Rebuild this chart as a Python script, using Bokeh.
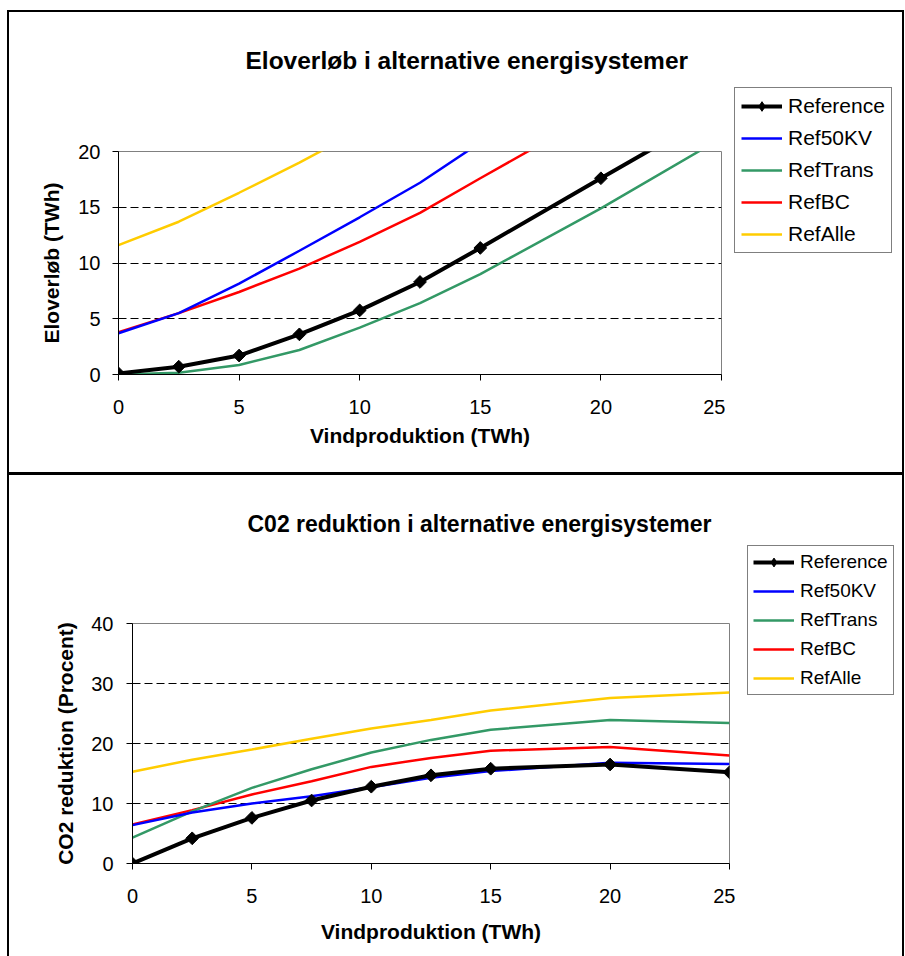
import math
from bokeh.plotting import figure
from bokeh.models import (Range1d, FixedTicker, Legend, LegendItem, Label)
from bokeh.layouts import column, row
from bokeh.embed import file_html
from bokeh.resources import INLINE

# ---------------- data ----------------
wind_twh = [0, 2.5, 5, 7.5, 10, 12.5, 15, 20, 25]
x_ticks = [0, 5, 10, 15, 20, 25]
series_names = ["Reference", "Ref50KV", "RefTrans", "RefBC", "RefAlle"]

# Eloverløb (TWh)
el_reference = [0.1, 0.7, 1.7, 3.6, 5.75, 8.3, 11.35, 17.6, 23.8]
el_ref50kv = [3.7, 5.5, 8.15, 11.1, 14.1, 17.2, 20.8, 28.0, 35.0]
el_reftrans = [0.0, 0.15, 0.85, 2.2, 4.2, 6.4, 9.0, 14.9, 21.2]
el_refbc = [3.8, 5.5, 7.4, 9.5, 11.9, 14.5, 17.6, 23.7, 30.0]
el_refalle = [11.6, 13.7, 16.3, 19.0, 21.9, 24.7, 27.5, 33.5, 39.5]
el_y_ticks = [0, 5, 10, 15, 20]

# CO2 reduktion (Procent)
co2_reference = [0.0, 4.2, 7.6, 10.5, 12.8, 14.7, 15.8, 16.5, 15.2]
co2_ref50kv = [6.4, 8.5, 10.0, 11.2, 12.7, 14.3, 15.4, 16.8, 16.6]
co2_reftrans = [4.3, 8.7, 12.6, 15.7, 18.5, 20.6, 22.3, 23.9, 23.4]
co2_refbc = [6.5, 8.9, 11.5, 13.7, 16.1, 17.6, 18.8, 19.4, 18.0]
co2_refalle = [15.3, 17.3, 19.0, 20.8, 22.5, 23.9, 25.5, 27.6, 28.5]
co2_y_ticks = [0, 10, 20, 30, 40]

colors = ["#000000", "#0000FF", "#339966", "#FF0000", "#FFCC00"]
FONT = "Liberation Sans"


def blank_fig(width, height, x_range, y_range):
    f = figure(width=width, height=height, output_backend="svg", toolbar_location=None,
               x_range=x_range, y_range=y_range,
               x_axis_location=None, y_axis_location=None,
               min_border=0, min_border_left=0, min_border_right=0,
               min_border_top=0, min_border_bottom=0)
    f.outline_line_color = None
    f.background_fill_color = "white"
    f.border_fill_color = "white"
    f.grid.grid_line_color = None
    return f


def title_fig(text, width, height, frame_lr, x_left, y_base, size):
    # the strip's frame is aligned with the chart frame below it, so its x range is
    # set to that frame's pixel span: data units here equal pixels from the panel edge
    f = blank_fig(width, height, Range1d(*frame_lr), Range1d(0, height))
    f.add_layout(Label(x=x_left, y=y_base, text=text, text_font=FONT, text_font_size=size,
                       text_font_style="bold", text_align="left",
                       text_baseline="alphabetic", text_color="black"))
    return f


def draw_series(f, series, marker="square", angle=math.pi / 4, size=9):
    """Draw the five series on f; returns list of renderer lists (legend order)."""
    rs = [None] * 5
    for i in [4, 3, 2, 1]:
        rs[i] = [f.line(wind_twh, series[i], line_color=colors[i], line_width=2.5)]
    r1 = f.line(wind_twh, series[0], line_color=colors[0], line_width=4)
    r2 = f.scatter(wind_twh, series[0], marker=marker, angle=angle,
                   size=size, fill_color="black", line_color="black")
    rs[0] = [r1, r2]
    return rs


def legend_fig(series, width, height, loc, font, rowh, spacing, padding):
    # the series are drawn outside this strip's visible ranges; only the legend shows
    f = blank_fig(width, height, Range1d(1000, 1001), Range1d(1000, 1001))
    rs = draw_series(f, series, marker="diamond", angle=0.0, size=13)
    items = [LegendItem(label=series_names[i], renderers=rs[i]) for i in range(5)]
    legend = Legend(items=items, location=loc, margin=0,
                    label_text_font=FONT, label_text_font_size=font,
                    label_text_color="black",
                    glyph_width=41, glyph_height=rowh, label_height=rowh,
                    spacing=spacing, padding=padding, label_standoff=6,
                    border_line_color="black", border_line_width=1,
                    background_fill_color="white", background_fill_alpha=1)
    f.add_layout(legend, "center")
    return f


def main_fig(ylabel, series, yticks, ymax, width, height, borders,
             xl_standoff, xa_standoff, yl_standoff, ya_standoff):
    bl, br, bt, bb = borders
    p = figure(width=width, height=height, output_backend="svg", toolbar_location=None,
               x_range=Range1d(0, 25), y_range=Range1d(0, ymax),
               min_border_left=bl, min_border_right=br,
               min_border_top=bt, min_border_bottom=bb)
    p.background_fill_color = "white"
    p.border_fill_color = "white"
    p.outline_line_color = "#808080"
    p.outline_line_width = 1

    p.xaxis.ticker = FixedTicker(ticks=x_ticks)
    p.yaxis.ticker = FixedTicker(ticks=yticks)
    for ax in (p.xaxis[0], p.yaxis[0]):
        ax.axis_line_color = "black"
        ax.major_tick_line_color = "black"
        ax.major_tick_out = 6
        ax.major_tick_in = 0
        ax.minor_tick_line_color = None
        ax.major_label_text_font = FONT
        ax.major_label_text_font_size = "20px"
        ax.major_label_text_color = "black"
        ax.axis_label_text_font = FONT
        ax.axis_label_text_font_size = "21px"
        ax.axis_label_text_font_style = "bold"
        ax.axis_label_text_color = "black"
    p.xaxis.axis_label = "Vindproduktion (TWh)"
    p.yaxis.axis_label = ylabel
    p.xaxis.major_label_standoff = xl_standoff
    p.xaxis.axis_label_standoff = xa_standoff
    p.yaxis.major_label_standoff = yl_standoff
    p.yaxis.axis_label_standoff = ya_standoff

    p.xgrid.grid_line_color = None
    p.ygrid.ticker = FixedTicker(ticks=[t for t in yticks if 0 < t < ymax])
    p.ygrid.grid_line_color = "black"
    p.ygrid.grid_line_width = 1
    p.ygrid.grid_line_dash = "8 4"

    draw_series(p, series)
    return p


el_series = [el_reference, el_ref50kv, el_reftrans, el_refbc, el_refalle]
co2_series = [co2_reference, co2_ref50kv, co2_reftrans, co2_refbc, co2_refalle]

# ---------- top panel (content origin at x=9, y=12; 893 x 460) ----------
t1 = title_fig("Eloverløb i alternative energisystemer", 716, 80, (109, 712), 236, 32, "24.5px")
m1 = main_fig("Eloverløb (TWh)", el_series, el_y_ticks, 20, 716, 380, (109, 4, 59, 98),
              19, 7, 12, 12)
l1 = legend_fig(el_series, 177, 460, (9, 219), "21px", 24, 8, 6)
panel1 = row(column(t1, m1, spacing=0), l1, spacing=0, margin=(10, 0, 0, 7),
             styles={"border-left": "2px solid black", "border-right": "2px solid black",
                     "border-top": "2px solid black", "border-bottom": "3px solid black"})

# ---------- bottom panel (content origin at x=9, y=475; 893 x 481) ----------
t2 = title_fig("C02 reduktion i alternative energisystemer", 726, 90, (123, 720), 238, 42, "23px")
m2 = main_fig("CO2 reduktion (Procent)", co2_series, co2_y_ticks, 40, 726, 391,
              (123, 6, 58, 93), 19, 14, 13, 11)
l2 = legend_fig(co2_series, 167, 481, (12, 261), "19px", 22, 7, 5)
panel2 = row(column(t2, m2, spacing=0), l2, spacing=0, margin=(0, 0, 0, 7),
             styles={"border-left": "2px solid black", "border-right": "2px solid black"})

layout = column(panel1, panel2, spacing=0)
open("out.html", "w").write(file_html(layout, INLINE))
